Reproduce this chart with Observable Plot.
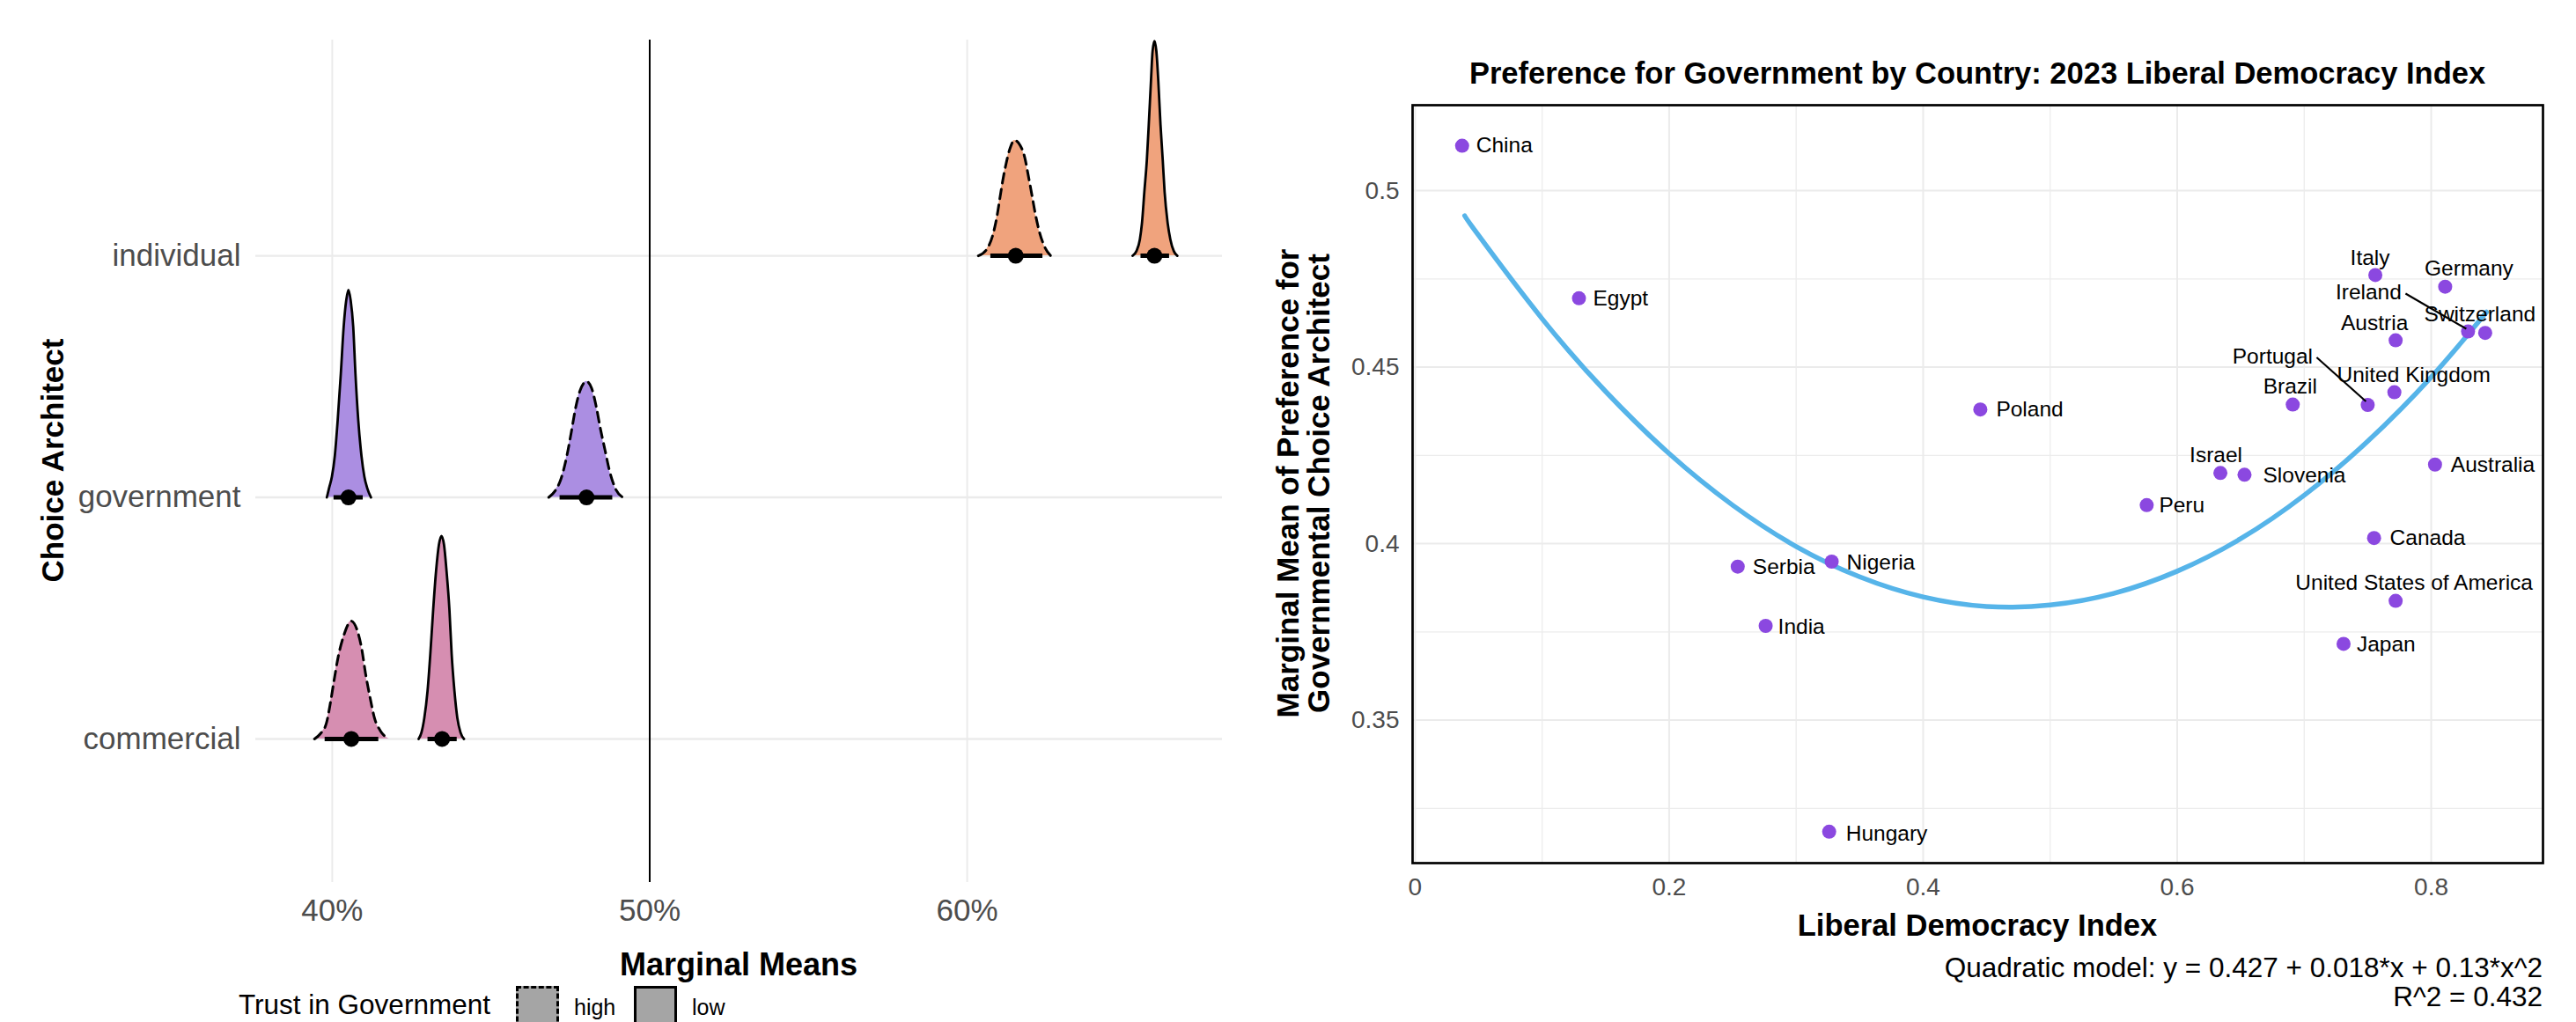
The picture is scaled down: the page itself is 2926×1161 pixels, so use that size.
<!DOCTYPE html>
<html><head><meta charset="utf-8">
<script src="https://cdn.jsdelivr.net/npm/d3@7"></script>
<script src="https://cdn.jsdelivr.net/npm/@observablehq/plot@0.6"></script>
<style>
html,body{margin:0;padding:0;background:#fff;}
body{width:2926px;height:1161px;overflow:hidden;position:relative;font-family:"Liberation Sans",Arial,sans-serif;color:#000;}
.t{position:absolute;white-space:nowrap;line-height:1;}
.key{position:absolute;width:43px;height:43px;background:#a5a5a5;border:3px solid #000;}
</style></head><body>
<div id="left" style="position:absolute;left:0;top:0"></div>
<div id="right" style="position:absolute;left:1440px;top:0"></div>

<div class="t" style="left:59px;top:523px;transform:translate(-50%,-50%) rotate(-90deg);font-weight:bold;font-size:35px">Choice Architect</div>
<div class="t" style="left:839px;top:1096px;transform:translate(-50%,-50%);font-weight:bold;font-size:36px">Marginal Means</div>
<div class="t" style="left:271px;top:1142px;transform:translateY(-50%);font-size:31.5px">Trust in Government</div>
<div class="key" style="left:586px;top:1120px;border-style:dashed"></div>
<div class="t" style="left:652px;top:1144px;transform:translateY(-50%);font-size:25px">high</div>
<div class="key" style="left:720px;top:1120px"></div>
<div class="t" style="left:786px;top:1144px;transform:translateY(-50%);font-size:25px">low</div>

<div class="t" style="left:2246px;top:83px;transform:translate(-50%,-50%);font-weight:bold;font-size:34.5px">Preference for Government by Country: 2023 Liberal Democracy Index</div>
<div class="t" style="left:1480px;top:549px;transform:translate(-50%,-50%) rotate(-90deg);font-weight:bold;font-size:35px;line-height:35px;text-align:center">Marginal Mean of Preference for<br>Governmental Choice Architect</div>
<div class="t" style="left:2246px;top:1051px;transform:translate(-50%,-50%);font-weight:bold;font-size:34.5px">Liberal Democracy Index</div>
<div class="t" style="right:38px;top:1100px;transform:translateY(-50%);font-size:31.5px;text-align:right">Quadratic model: y = 0.427 + 0.018*x + 0.13*x^2</div>
<div class="t" style="right:38px;top:1133px;transform:translateY(-50%);font-size:31.5px;text-align:right">R^2 = 0.432</div>

<script>
// ---------- Left panel data: ridgeline outlines ----------
const architects = ["commercial", "government", "individual"];
const archColors = ["#D68EB1", "#AB8EE2", "#F0A37D"];

const indHighX = [0.6035,0.6061,0.6082,0.6094,0.6103,0.6112,0.6123,0.6135,0.6149,0.6167,0.6181,0.6192,0.6204,0.6216,0.6229,0.6246,0.6263];
const indHighH = [0,0.026,0.092,0.165,0.238,0.311,0.384,0.445,0.478,0.457,0.409,0.336,0.251,0.165,0.092,0.032,0];
const indLowX = [0.6521,0.6533,0.6544,0.6551,0.6558,0.6566,0.6572,0.6579,0.6584,0.6590,0.6596,0.6602,0.6609,0.6616,0.6622,0.6631,0.6640,0.6651,0.6662];
const indLowH = [0,0.019,0.068,0.141,0.263,0.397,0.543,0.725,0.847,0.889,0.847,0.725,0.543,0.397,0.263,0.141,0.068,0.019,0];
const govHighX = [0.4682,0.4702,0.4720,0.4739,0.4753,0.4766,0.4780,0.4801,0.4817,0.4831,0.4845,0.4859,0.4873,0.4891,0.4915];
const govHighH = [0,0.027,0.075,0.172,0.270,0.367,0.440,0.480,0.452,0.379,0.282,0.197,0.112,0.039,0];
const govLowX = [0.3983,0.3990,0.3999,0.4008,0.4017,0.4027,0.4036,0.4044,0.4051,0.4058,0.4066,0.4073,0.4082,0.4092,0.4101,0.4110,0.4122];
const govLowH = [0,0.039,0.087,0.172,0.318,0.513,0.707,0.816,0.859,0.816,0.707,0.513,0.318,0.172,0.087,0.039,0];
const comHighX = [0.3944,0.3962,0.3981,0.3994,0.4006,0.4019,0.4036,0.4060,0.4078,0.4092,0.4105,0.4119,0.4133,0.4152,0.4179];
const comHighH = [0,0.021,0.063,0.148,0.245,0.342,0.427,0.488,0.452,0.379,0.270,0.172,0.087,0.033,0];
const comLowX = [0.4272,0.4281,0.4290,0.4300,0.4309,0.4318,0.4327,0.4336,0.4344,0.4352,0.4360,0.4369,0.4376,0.4385,0.4394,0.4404,0.4415];
const comLowH = [0,0.027,0.087,0.197,0.354,0.537,0.695,0.804,0.840,0.804,0.695,0.537,0.354,0.197,0.087,0.027,0];

// summary: mean and interval per ridge
const ridgeArch  = ["individual","individual","government","government","commercial","commercial"];
const ridgeTrust = ["high","low","high","low","high","low"];
const ridgeMean  = [0.6153,0.6590,0.4801,0.4051,0.4060,0.4346];
const ridgeLo    = [0.6073,0.6546,0.4716,0.4004,0.3976,0.4300];
const ridgeHi    = [0.6237,0.6636,0.4882,0.4096,0.4145,0.4392];
const ridgeXs = [indHighX, indLowX, govHighX, govLowX, comHighX, comLowX];
const ridgeHs = [indHighH, indLowH, govHighH, govLowH, comHighH, comLowH];

const xTicksLeft = [0.4, 0.5, 0.6];

// ---------- Right panel data ----------
const countries = ["China","Egypt","Poland","Italy","Germany","Ireland","Switzerland","Austria","United Kingdom","Portugal","Brazil","Israel","Slovenia","Australia","Peru","Canada","Serbia","Nigeria","United States of America","India","Japan","Hungary"];
const ldi  = [0.037,0.129,0.445,0.756,0.811,0.829,0.8425,0.772,0.771,0.750,0.691,0.634,0.653,0.803,0.576,0.755,0.254,0.328,0.772,0.276,0.731,0.326];
const pref = [0.5127,0.4695,0.4380,0.4761,0.4728,0.4601,0.4597,0.4576,0.4429,0.4393,0.4394,0.4200,0.4195,0.4224,0.4109,0.4016,0.3935,0.3949,0.3838,0.3767,0.3716,0.3184];

// fitted quadratic curve
const fitX = [0.039,0.05,0.1,0.15,0.2,0.25,0.3,0.35,0.4,0.45,0.5,0.55,0.6,0.65,0.7,0.75,0.8,0.8436];
const fitY = [0.4929,0.4873,0.4637,0.4431,0.4255,0.4109,0.3992,0.3906,0.3849,0.3822,0.3826,0.3859,0.3922,0.4014,0.4137,0.4290,0.4472,0.4656];

const xTicksRight = [0, 0.2, 0.4, 0.6, 0.8];
const xMinorRight = [0.1, 0.3, 0.5, 0.7];
const yTicksRight = [0.35, 0.4, 0.45, 0.5];
const yMinorRight = [0.325, 0.375, 0.425, 0.475];

// ---------- Build left ----------
const rows = [];
ridgeArch.forEach((a, i) => {
  const base = architects.indexOf(a) + 1;
  ridgeXs[i].forEach((x, j) => rows.push({id: i, arch: a, trust: ridgeTrust[i], x, base, top: base + ridgeHs[i][j]}));
});
const summary = ridgeArch.map((a, i) => ({arch: a, trust: ridgeTrust[i], base: architects.indexOf(a) + 1, mean: ridgeMean[i], lo: ridgeLo[i], hi: ridgeHi[i]}));

const left = Plot.plot({
  width: 1440, height: 1161,
  marginLeft: 290, marginRight: 52, marginTop: 45, marginBottom: 159,
  x: {domain: [0.3759, 0.6804]},
  y: {domain: [0.406, 3.893]},
  color: {domain: architects, range: archColors},
  style: {fontFamily: "Liberation Sans, Arial, sans-serif", fontSize: "35px", color: "#4d4d4d", background: "transparent", overflow: "visible"},
  marks: [
    Plot.ruleY([1, 2, 3], {stroke: "#ebebeb", strokeWidth: 2.4}),
    Plot.ruleX(xTicksLeft, {stroke: "#ebebeb", strokeWidth: 2}),
    Plot.ruleX([0.5], {stroke: "#000", strokeWidth: 2}),
    Plot.area(rows, {x1: "x", y1: "base", y2: "top", z: "id", fill: "arch", curve: "monotone-x"}),
    Plot.line(rows.filter(d => d.trust === "high"), {x: "x", y: "top", z: "id", stroke: "#000", strokeWidth: 3, strokeDasharray: "11,7", curve: "monotone-x"}),
    Plot.line(rows.filter(d => d.trust === "low"), {x: "x", y: "top", z: "id", stroke: "#000", strokeWidth: 2.8, curve: "monotone-x"}),
    Plot.link(summary, {x1: "lo", x2: "hi", y1: "base", y2: "base", stroke: "#000", strokeWidth: 5}),
    Plot.dot(summary, {x: "mean", y: "base", r: 9, fill: "#000"}),
    Plot.axisX(xTicksLeft, {tickFormat: d3.format(".0%"), tickSize: 0, tickPadding: 19, fontSize: 35, label: null}),
    Plot.axisY([1, 2, 3], {tickFormat: d => architects[d - 1], tickSize: 0, tickPadding: 17, fontSize: 35, label: null})
  ]
});
document.getElementById("left").append(left);

// ---------- Build right ----------
const pts = countries.map((c, i) => ({country: c, x: ldi[i], y: pref[i]}));
const fit = fitX.map((x, i) => ({x, y: fitY[i]}));

const xDom = [-0.002, 0.888], yDom = [0.3095, 0.5242];
const pw = 1486 - 164 - 38, ph = 1161 - 119 - 181;
const pxX = (xDom[1] - xDom[0]) / pw, pxY = (yDom[1] - yDom[0]) / ph;

// label placement (pixels relative to the point): dx, dy, anchor
const labelPlace = {
  "China": [16, 0, "start"], "Egypt": [16, 0, "start"], "Poland": [18, 0, "start"],
  "Italy": [-6, -19, "middle"], "Germany": [27, -20, "middle"], "Ireland": [-113, -44, "middle"],
  "Switzerland": [-6, -21, "middle"], "Austria": [-24, -19, "middle"], "United Kingdom": [22, -19, "middle"],
  "Portugal": [-108, -55, "middle"], "Brazil": [-3, -20, "middle"], "Israel": [-5, -20, "middle"],
  "Slovenia": [21, 1, "start"], "Australia": [18, 0, "start"], "Peru": [14, 0, "start"],
  "Canada": [18, 0, "start"], "Serbia": [17, 1, "start"], "Nigeria": [17, 1, "start"],
  "United States of America": [21, -20, "middle"], "India": [14, 1, "start"], "Japan": [15, 1, "start"],
  "Hungary": [19, 2, "start"]
};
// leader segments (pixel offsets from the point: start, end)
const leaders = {"Ireland": [[-71, -43], [-2, -3]], "Portugal": [[-58, -54], [-2, -4]]};
const segs = Object.entries(leaders).map(([c, [s, e]]) => {
  const p = pts.find(d => d.country === c);
  return {x1: p.x + s[0] * pxX, y1: p.y - s[1] * pxY, x2: p.x + e[0] * pxX, y2: p.y - e[1] * pxY};
});

const right = Plot.plot({
  width: 1486, height: 1161,
  marginLeft: 164, marginRight: 38, marginTop: 119, marginBottom: 181,
  x: {domain: xDom},
  y: {domain: yDom},
  style: {fontFamily: "Liberation Sans, Arial, sans-serif", fontSize: "28px", color: "#4d4d4d", background: "transparent", overflow: "visible"},
  marks: [
    Plot.ruleX(xMinorRight, {stroke: "#ececec", strokeWidth: 1.3}),
    Plot.ruleY(yMinorRight, {stroke: "#ececec", strokeWidth: 1.3}),
    Plot.ruleX(xTicksRight, {stroke: "#ebebeb", strokeWidth: 2}),
    Plot.ruleY(yTicksRight, {stroke: "#ebebeb", strokeWidth: 2}),
    Plot.line(fit, {x: "x", y: "y", stroke: "#56B4E9", strokeWidth: 5.5, curve: "natural"}),
    Plot.dot(pts, {x: "x", y: "y", r: 8, fill: "#8B48E0"}),
    Plot.link(segs, {x1: "x1", y1: "y1", x2: "x2", y2: "y2", stroke: "#000", strokeWidth: 2.2}),
    ...pts.map(p => {
      const [dx, dy, anchor] = labelPlace[p.country];
      return Plot.text([p], {x: "x", y: "y", text: "country", dx, dy, textAnchor: anchor, fontSize: 24.5, fill: "#000"});
    }),
    Plot.frame({stroke: "#000", strokeWidth: 2.7}),
    Plot.axisX(xTicksRight, {tickFormat: d => d === 0 ? "0" : String(d), tickSize: 0, tickPadding: 17, fontSize: 28, label: null}),
    Plot.axisY(yTicksRight, {tickFormat: d => String(d), tickSize: 0, tickPadding: 15, fontSize: 28, label: null})
  ]
});
document.getElementById("right").append(right);
</script>
</body></html>
